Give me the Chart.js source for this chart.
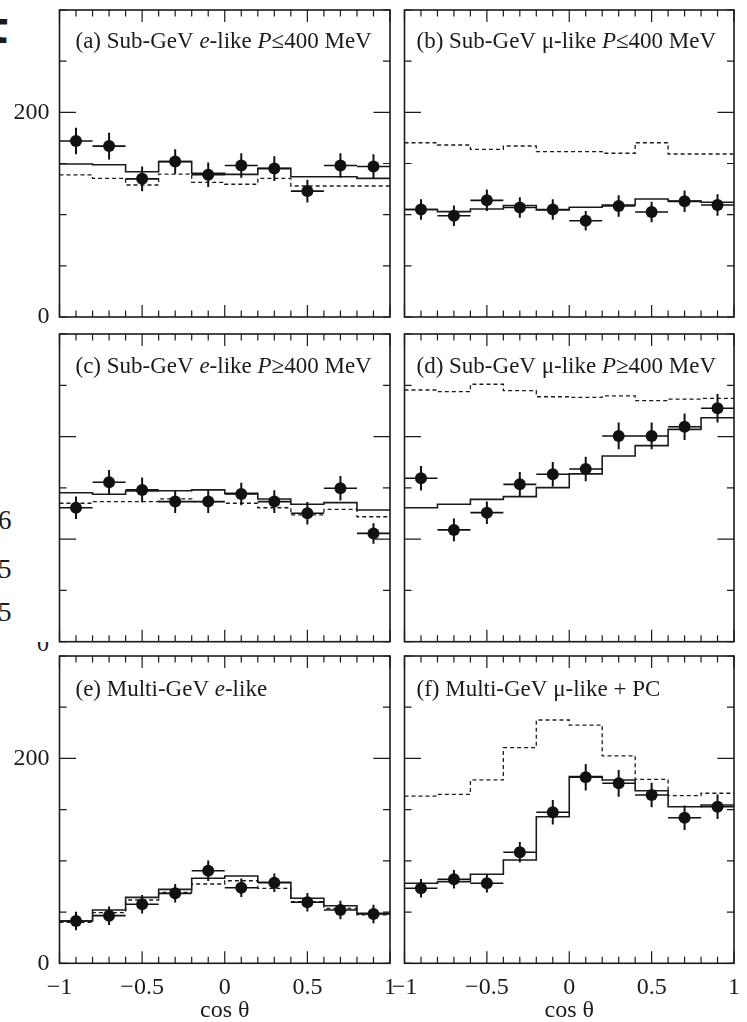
<!DOCTYPE html>
<html>
<head>
<meta charset="utf-8">
<script src="https://cdn.jsdelivr.net/npm/chart.js@4.4.1/dist/chart.umd.min.js"></script>
<style>
  html, body { margin: 0; padding: 0; background: #fff; }
  body { width: 747px; height: 1022px; position: relative; overflow: hidden; }
  canvas { position: absolute; }
  .frag { position: absolute; color: #1a1a1a; line-height: 1; white-space: nowrap; }
  .clip { position: absolute; overflow: hidden; }
</style>
</head>
<body>
<div class="frag" style="left:-13px;top:2px;font:bold 44px 'DejaVu Sans';">t</div>
<div class="frag" style="left:-2px;top:505px;font:27px 'Liberation Serif';">6</div>
<div class="frag" style="left:-2px;top:554px;font:27px 'Liberation Serif';">5</div>
<div class="frag" style="left:-2px;top:597px;font:27px 'Liberation Serif';">5</div>
<div class="clip" style="left:34px;top:642px;width:18px;height:9px;">
  <div class="frag" style="left:3px;top:-12px;font:24px 'Liberation Serif';">0</div>
</div>

<script>
// Zenith-angle bins in cos(theta)
const EDGES   = [-1, -0.8, -0.6, -0.4, -0.2, 0, 0.2, 0.4, 0.6, 0.8, 1];
const CENTERS = [-0.9, -0.7, -0.5, -0.3, -0.1, 0.1, 0.3, 0.5, 0.7, 0.9];
const HALF_BIN = 0.1;
const X_TICK_LABELS = [-1, -0.5, 0, 0.5, 1];

// (a) Sub-GeV e-like, P <= 400 MeV
const dataA  = [172, 167, 135, 152, 139, 148, 145, 123, 148, 147];
const errA   = [13, 13, 12, 12, 12, 12, 12, 11, 12, 12];
const fitA   = [149.5, 148.8, 142, 151.8, 140.4, 139.4, 145.3, 137.1, 137.1, 135.5];
const noOscA = [138.8, 135.5, 129, 139.7, 131.6, 129.7, 135.5, 128, 128, 128];

// (b) Sub-GeV mu-like, P <= 400 MeV
const dataB  = [105, 99, 114, 107, 105, 94, 108.5, 102.6, 113, 109.4];
const errB   = [10, 10, 10.5, 10, 10, 9.5, 10.5, 10, 10.5, 10.5];
const fitB   = [105, 103, 105.5, 109, 104.6, 107.2, 109.4, 115.3, 113.4, 112.1];
const noOscB = [170.3, 168.1, 163.9, 167.1, 161.6, 161.6, 160, 170.3, 159.3, 159.3];

// (c) Sub-GeV e-like, P >= 400 MeV
const dataC  = [65.3, 77.7, 74, 68.3, 68.3, 72, 68.3, 62.6, 74.8, 52.8];
const errC   = [5.5, 6, 6, 5.5, 5.5, 5.5, 5.5, 5.5, 6, 5];
const fitC   = [72.6, 71.9, 73.5, 73.6, 74, 72.3, 69.6, 67, 67.8, 64.2];
const noOscC = [67.5, 68.3, 68.3, 69.6, 68.3, 67.5, 65.3, 61.8, 64.5, 60.9];

// (d) Sub-GeV mu-like, P >= 400 MeV
const dataD  = [79.7, 54.5, 62.9, 76.7, 81.6, 84.2, 100.3, 100.3, 104.8, 113.8];
const errD   = [6, 5.5, 5.5, 6, 6, 6, 6.5, 6.5, 6.5, 7];
const fitD   = [65.3, 67, 69.4, 70.7, 75.1, 81.8, 90.5, 95.6, 103.5, 109.2];
const noOscD = [122.7, 121.9, 125.5, 122.4, 119.4, 119.1, 119.8, 117.5, 118.3, 118.6];

// (e) Multi-GeV e-like
const dataE  = [41.3, 46.5, 57.6, 68.3, 90.4, 73.8, 78.7, 59.6, 52, 48.1];
const errE   = [9, 9, 9, 9, 10, 9, 9, 9, 9, 9];
const fitE   = [41.3, 52, 64.4, 72.2, 83, 85.2, 79.1, 63.5, 56.2, 48.8];
const noOscE = [40, 49.4, 61.8, 69.3, 77.4, 80.6, 73.2, 60.1, 53.7, 47.2];

// (f) Multi-GeV mu-like + PC
const dataF  = [73.2, 82, 78.1, 108.4, 147.4, 181.6, 175.7, 164.3, 142.1, 152.9];
const errF   = [9, 9, 9, 10, 12, 13, 13, 12, 12, 12];
const fitF   = [78.1, 79.7, 86.9, 100.9, 143.1, 182.2, 179, 168.5, 152.9, 154.5];
const noOscF = [163.3, 164.9, 179, 210.5, 237.5, 232.6, 202.4, 179.6, 163.6, 166];

const INK = '#1b1b1b';
const SERIF = "'Liberation Serif', 'Times New Roman', serif";

// Page layout of the 3 x 2 grid
const ROWS = [
  { top: 10,  bottom: 317,   cTop: 0,   cBottom: 327,  yMax: 300, yStep: 50, yLong: [200],     yLabels: [0, 200], titleDy: 32, xLabels: false },
  { top: 334, bottom: 641.7, cTop: 324, cBottom: 652,  yMax: 150, yStep: 25, yLong: [50, 100], yLabels: [],       titleDy: 33, xLabels: false },
  { top: 656, bottom: 963.3, cTop: 646, cBottom: 1022, yMax: 300, yStep: 50, yLong: [200],     yLabels: [0, 200], titleDy: 34, xLabels: true }
];
const COLS = [
  { left: 59.5,  right: 390, cLeft: 0,   cRight: 400, yLabels: true,  titleDx: 16 },
  { left: 404.5, right: 734, cLeft: 345, cRight: 747, yLabels: false, titleDx: 12 }
];

const PANELS = [
  { row: 0, col: 0, title: [['(a) Sub-GeV ', 0], ['e', 1], ['-like ', 0], ['P', 1], ['\u2264400 MeV', 0]], data: dataA, err: errA, fit: fitA, noOsc: noOscA },
  { row: 0, col: 1, title: [['(b) Sub-GeV \u03bc-like ', 0], ['P', 1], ['\u2264400 MeV', 0]], data: dataB, err: errB, fit: fitB, noOsc: noOscB },
  { row: 1, col: 0, title: [['(c) Sub-GeV ', 0], ['e', 1], ['-like ', 0], ['P', 1], ['\u2265400 MeV', 0]], data: dataC, err: errC, fit: fitC, noOsc: noOscC },
  { row: 1, col: 1, title: [['(d) Sub-GeV \u03bc-like ', 0], ['P', 1], ['\u2265400 MeV', 0]], data: dataD, err: errD, fit: fitD, noOsc: noOscD },
  { row: 2, col: 0, title: [['(e) Multi-GeV ', 0], ['e', 1], ['-like', 0]], data: dataE, err: errE, fit: fitE, noOsc: noOscE },
  { row: 2, col: 1, title: [['(f) Multi-GeV \u03bc-like + PC', 0]], data: dataF, err: errF, fit: fitF, noOsc: noOscF }
];

// Frame with inward ticks on all four sides, plus the panel caption
const framePlugin = {
  id: 'frame',
  afterDatasetsDraw(chart, args, opts) {
    const { ctx, chartArea: a, scales: { x, y } } = chart;
    ctx.save();
    ctx.strokeStyle = INK;
    ctx.lineWidth = 1.2;
    ctx.beginPath();
    for (let i = -10; i <= 10; i++) {
      const px = x.getPixelForValue(i / 10);
      const len = (i % 5 === 0) ? 12 : 6.5;
      ctx.moveTo(px, a.bottom); ctx.lineTo(px, a.bottom - len);
      ctx.moveTo(px, a.top);    ctx.lineTo(px, a.top + len);
    }
    for (let v = 0; v <= opts.yMax + 1e-9; v += opts.yStep) {
      const py = y.getPixelForValue(v);
      const len = opts.yLong.includes(v) ? 16.5 : 7;
      ctx.moveTo(a.left, py);  ctx.lineTo(a.left + len, py);
      ctx.moveTo(a.right, py); ctx.lineTo(a.right - len, py);
    }
    ctx.stroke();
    ctx.lineWidth = 1.6;
    ctx.strokeRect(a.left, a.top, a.right - a.left, a.bottom - a.top);

    // caption with italic runs
    ctx.fillStyle = INK;
    ctx.textBaseline = 'middle';
    ctx.textAlign = 'left';
    let tx = a.left + opts.titleDx;
    const ty = a.top + opts.titleDy;
    for (const [txt, ital] of opts.title) {
      ctx.font = (ital ? 'italic ' : '') + '23px ' + SERIF;
      ctx.fillText(txt, tx, ty);
      tx += ctx.measureText(txt).width;
    }
    ctx.restore();
  }
};

function fmtCos(v) {
  if (!X_TICK_LABELS.includes(v)) return '';
  return v < 0 ? '\u2212' + Math.abs(v) : String(v);
}

PANELS.forEach((p) => {
  const R = ROWS[p.row], C = COLS[p.col];
  const cv = document.createElement('canvas');
  const W = C.cRight - C.cLeft, H = R.cBottom - R.cTop;
  cv.width = W; cv.height = H;
  cv.style.left = C.cLeft + 'px'; cv.style.top = R.cTop + 'px';
  cv.style.width = W + 'px'; cv.style.height = H + 'px';
  document.body.appendChild(cv);

  const last = p.fit.length - 1;
  const stepLine = (vals) => EDGES.map((e, i) => ({ x: e, y: vals[Math.min(i, last)] }));
  const vBars = CENTERS.flatMap((c, i) => [
    { x: c, y: p.data[i] - p.err[i] }, { x: c, y: p.data[i] + p.err[i] }, { x: c, y: null }]);
  const hBars = CENTERS.flatMap((c, i) => [
    { x: c - HALF_BIN, y: p.data[i] }, { x: c + HALF_BIN, y: p.data[i] }, { x: c, y: null }]);

  const showYLabels = C.yLabels && R.yLabels.length > 0;

  new Chart(cv, {
    type: 'scatter',
    data: {
      datasets: [
        { label: 'data', data: CENTERS.map((c, i) => ({ x: c, y: p.data[i] })),
          pointRadius: 6, pointHoverRadius: 6, backgroundColor: '#111', borderWidth: 0, showLine: false },
        { label: 'vErr', data: vBars, showLine: true, pointRadius: 0, borderColor: '#111', borderWidth: 2, spanGaps: false },
        { label: 'hErr', data: hBars, showLine: true, pointRadius: 0, borderColor: '#111', borderWidth: 1.6, spanGaps: false },
        { label: 'fit', data: stepLine(p.fit), showLine: true, stepped: 'before', pointRadius: 0, borderColor: INK, borderWidth: 1.6 },
        { label: 'noOsc', data: stepLine(p.noOsc), showLine: true, stepped: 'before', pointRadius: 0, borderColor: INK, borderWidth: 1.3, borderDash: [4, 3] }
      ]
    },
    options: {
      responsive: false,
      devicePixelRatio: 1,
      animation: false,
      events: [],
      layout: { padding: { left: 0, top: R.top - R.cTop, right: C.cRight - C.right, bottom: 0 } },
      plugins: {
        legend: { display: false },
        tooltip: { enabled: false },
        frame: { yMax: R.yMax, yStep: R.yStep, yLong: R.yLong, title: p.title, titleDx: C.titleDx, titleDy: R.titleDy }
      },
      scales: {
        x: {
          type: 'linear', min: -1, max: 1,
          grid: { display: false, drawTicks: false }, border: { display: false },
          ticks: {
            display: R.xLabels, stepSize: 0.5, autoSkip: false, maxRotation: 0,
            padding: 10, color: INK, font: { family: SERIF, size: 24 }, callback: fmtCos
          },
          title: {
            display: R.xLabels, text: 'cos \u03b8', color: INK,
            font: { family: SERIF, size: 24, lineHeight: 0.9 }, padding: { top: 0, bottom: 0 }
          },
          afterFit(s) { s.height = R.cBottom - R.bottom; s.paddingLeft = 0; s.paddingRight = 0; }
        },
        y: {
          type: 'linear', min: 0, max: R.yMax,
          grid: { display: false, drawTicks: false }, border: { display: false },
          ticks: {
            display: showYLabels, stepSize: R.yStep, autoSkip: false, padding: 10,
            color: INK, font: { family: SERIF, size: 24 },
            callback: (v) => (R.yLabels.includes(v) ? String(v) : '')
          },
          afterFit(s) { s.width = C.left - C.cLeft; s.paddingTop = 0; s.paddingBottom = 0; }
        }
      }
    },
    plugins: [framePlugin]
  });
});
</script>
</body>
</html>
